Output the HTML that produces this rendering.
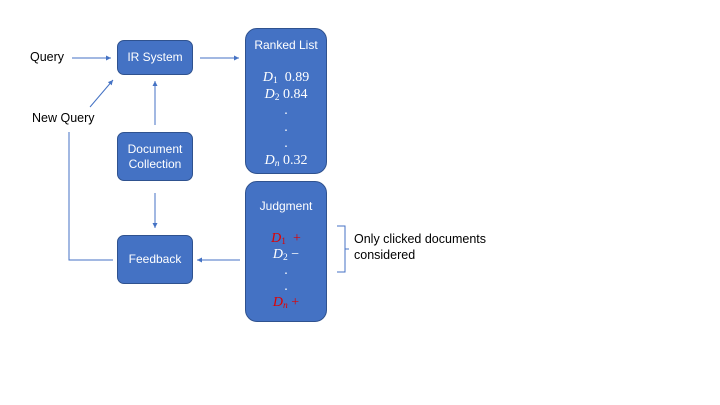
<!DOCTYPE html>
<html><head><style>
body{margin:0;width:720px;height:405px;background:#fff;overflow:hidden;position:relative;font-family:"Liberation Sans",sans-serif}
.b{position:absolute;background:#4472C4;border:1px solid #2F528F;box-sizing:border-box;color:#fff;text-align:center;font-size:12px}
.t{position:absolute;font-size:12.5px;color:#000}
.m{font-family:"Liberation Serif",serif;font-size:14px;line-height:16.5px}
.m i{font-style:italic}
.r{color:#e00000}
sub{font-size:9.5px;vertical-align:-2px;line-height:0}
</style></head><body>
<div class="b" style="left:117px;top:40px;width:76px;height:35px;border-radius:7px;line-height:33px">IR System</div>
<div class="b" style="left:117px;top:132px;width:76px;height:49px;border-radius:7px;padding-top:9px;line-height:15px">Document<br>Collection</div>
<div class="b" style="left:117px;top:235px;width:76px;height:49px;border-radius:7px;line-height:47px">Feedback</div>
<div class="b" style="left:245px;top:28px;width:82px;height:146px;border-radius:12px">
<div style="margin-top:9px;font-size:12px">Ranked List</div>
<div class="m" style="margin-top:18px"><i>D</i><sub>1</sub>&nbsp; 0.89<br><i>D</i><sub>2</sub> 0.84<br>.<br>.<br>.<br><i>D<sub>n</sub></i> 0.32</div></div>
<div class="b" style="left:245px;top:181px;width:82px;height:141px;border-radius:12px">
<div style="margin-top:17px;font-size:12px">Judgment</div>
<div class="m" style="margin-top:18px;line-height:16px"><span class="r"><i>D</i><sub>1</sub>&nbsp; +</span><br><i>D</i><sub>2</sub> &minus;<br>.<br>.<br><span class="r"><i>D<sub>n</sub></i> +</span></div></div>
<div class="t" style="left:30px;top:50px">Query</div>
<div class="t" style="left:32px;top:111px">New Query</div>
<div class="t" style="left:354px;top:231px;line-height:16px">Only clicked documents<br>considered</div>
<svg width="720" height="405" style="position:absolute;left:0;top:0">
<defs><marker id="a" markerWidth="6" markerHeight="6" refX="5" refY="3" orient="auto"><path d="M0,0.5L5,3L0,5.5z" fill="#4472C4"/></marker></defs>
<g stroke="#4472C4" stroke-width="1" fill="none">
<line x1="72" y1="58" x2="111" y2="58" marker-end="url(#a)"/>
<line x1="90" y1="107" x2="113" y2="80" marker-end="url(#a)"/>
<line x1="200" y1="58" x2="239" y2="58" marker-end="url(#a)"/>
<line x1="155" y1="125" x2="155" y2="81" marker-end="url(#a)"/>
<line x1="155" y1="193" x2="155" y2="228" marker-end="url(#a)"/>
<line x1="240" y1="260" x2="197" y2="260" marker-end="url(#a)"/>
<polyline points="113,260 69,260 69,132"/>
<polyline points="337,226 345,226 345,272 337,272"/>
<line x1="345" y1="249" x2="349" y2="249"/>
</g></svg>
</body></html>
